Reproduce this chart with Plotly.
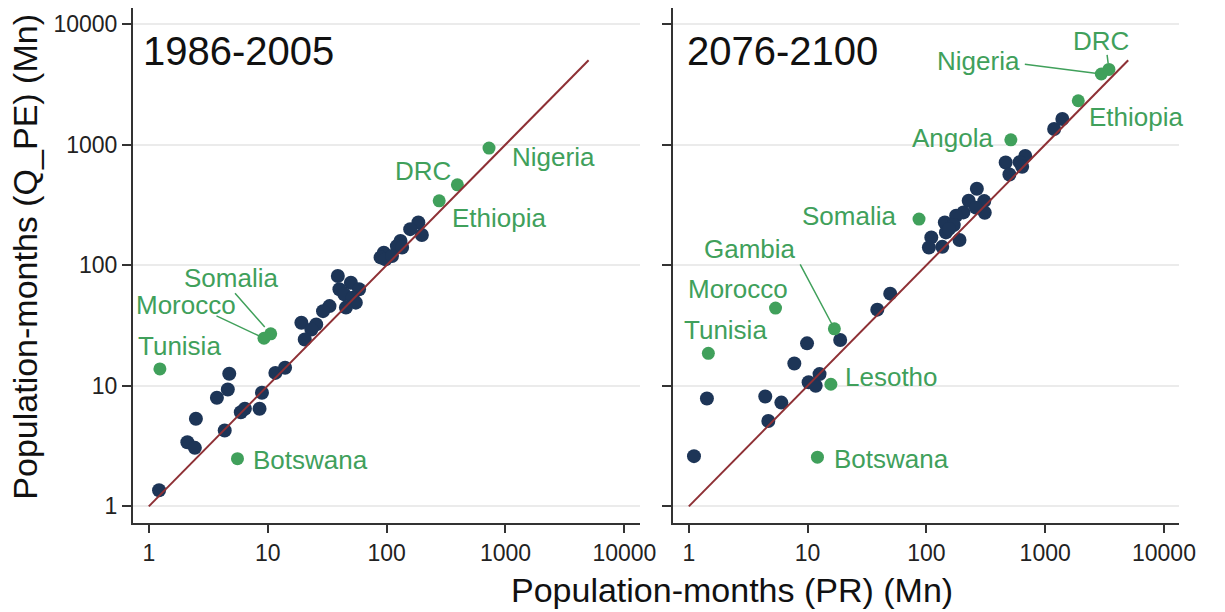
import numpy as np
import plotly.graph_objects as go

# ---------------- data (population-months, millions) ----------------
# 1986-2005: countries without a label
base_pr = [1.22, 2.11, 2.44, 2.49, 3.74, 4.62, 4.75, 4.35, 5.94, 6.43, 8.54, 8.95, 11.6, 14.0,
           185, 158, 198, 131, 122, 135, 94.8, 89, 97.9, 111,
           38.9, 50.1, 40.1, 58.7, 44.1, 51.8, 55.1, 45.5, 33.1, 29.2, 19.2, 25.6, 23.3, 20.5]
base_qpe = [1.36, 3.40, 3.06, 5.33, 7.96, 9.33, 12.6, 4.26, 6.04, 6.45, 6.45, 8.77, 12.8, 14.1,
            226, 199, 178, 159, 144, 140, 127, 116, 112, 119,
            81.3, 71.6, 63.1, 63.1, 57.3, 53.8, 48.9, 44.5, 45.8, 41.6, 33.3, 32.3, 29.3, 24.2]

# 1986-2005: highlighted countries
base_names = ["Nigeria", "DRC", "Ethiopia", "Somalia", "Morocco", "Tunisia", "Botswana"]
base_hl_pr = [727, 394, 277, 10.6, 9.31, 1.24, 5.57]
base_hl_qpe = [935, 464, 342, 27.0, 24.8, 13.8, 2.49]

# 2076-2100: countries without a label
fut_pr = [1.105, 1.42, 4.40, 4.67, 6.01, 7.73, 9.89, 10.2, 11.7, 12.6, 18.8, 38.6, 49.6,
          266, 227, 307, 310, 261, 205, 178, 143, 170, 110, 105, 136, 190, 146, 155,
          465, 680, 610, 500, 640, 1190, 1395]
fut_qpe = [2.61, 7.84, 8.15, 5.11, 7.26, 15.3, 22.5, 10.7, 10.0, 12.5, 24.0, 42.8, 58.1,
           430, 342, 340, 272, 300, 274, 257, 226, 215, 170, 140, 142, 162, 187, 200,
           711, 805, 715, 565, 655, 1347, 1630]

# 2076-2100: highlighted countries
fut_names = ["DRC", "Nigeria", "Ethiopia", "Angola", "Somalia", "Gambia",
             "Morocco", "Tunisia", "Lesotho", "Botswana"]
fut_hl_pr = [3440, 2970, 1900, 514, 86.7, 16.8, 5.37, 1.46, 15.7, 12.1]
fut_hl_qpe = [4200, 3850, 2310, 1096, 241, 29.7, 44.1, 18.6, 10.3, 2.56]

# 1:1 reference line
ref_line = [1, 5000]

periods = ["1986-2005", "2076-2100"]
tick_vals = [1, 10, 100, 1000, 10000]
tick_text = ["1", "10", "100", "1000", "10000"]

# ---------------- styling ----------------
FONT = "Liberation Sans, Arial, Helvetica, sans-serif"
NAVY = "#1d3557"
GREEN = "#40a05b"
MAROON = "#8e3035"
AXIS = "#333333"
W, H = 1225, 612

# label placement around each highlighted point (pixels; dy positive = down)
base_label_pos = {
    "Nigeria": dict(anchor="left", dx=21, dy=9),
    "DRC": dict(anchor="right", dx=-4, dy=-14),
    "Ethiopia": dict(anchor="left", dx=11, dy=17),
    "Somalia": dict(anchor="center", dx=-40, dy=-56, tail=(-37, -42), standoff=9),
    "Morocco": dict(anchor="center", dx=-78, dy=-33, tail=(-49, -23), standoff=4),
    "Tunisia": dict(anchor="center", dx=20, dy=-23),
    "Botswana": dict(anchor="left", dx=14, dy=1),
}
fut_label_pos = {
    "DRC": dict(anchor="center", dx=-8, dy=-28, tail=(-2, -16), standoff=6),
    "Nigeria": dict(anchor="center", dx=-123, dy=-13, tail=(-78, -10), standoff=4),
    "Ethiopia": dict(anchor="left", dx=9, dy=16),
    "Angola": dict(anchor="right", dx=-16, dy=-2),
    "Somalia": dict(anchor="right", dx=-21, dy=-3),
    "Gambia": dict(anchor="center", dx=-84, dy=-80, tail=(-35, -66), standoff=4),
    "Morocco": dict(anchor="center", dx=-38, dy=-19),
    "Tunisia": dict(anchor="center", dx=17, dy=-23),
    "Lesotho": dict(anchor="left", dx=12, dy=-7),
    "Botswana": dict(anchor="left", dx=15, dy=2),
}

fig = go.Figure()

panels = [
    ("x", "y", base_pr, base_qpe, base_names, base_hl_pr, base_hl_qpe, base_label_pos),
    ("x2", "y2", fut_pr, fut_qpe, fut_names, fut_hl_pr, fut_hl_qpe, fut_label_pos),
]

for xr, yr, pr, qpe, names, hpr, hqpe, lpos in panels:
    fig.add_trace(go.Scatter(x=pr, y=qpe, xaxis=xr, yaxis=yr, mode="markers",
                             marker=dict(size=14, color=NAVY, line=dict(width=0)),
                             showlegend=False, hoverinfo="skip", cliponaxis=False))
    fig.add_trace(go.Scatter(x=hpr, y=hqpe, xaxis=xr, yaxis=yr, mode="markers",
                             marker=dict(size=13, color=GREEN, line=dict(width=0)),
                             showlegend=False, text=names, cliponaxis=False))
    fig.add_trace(go.Scatter(x=ref_line, y=ref_line, xaxis=xr, yaxis=yr, mode="lines",
                             line=dict(color=MAROON, width=2), showlegend=False,
                             hoverinfo="skip"))
    for name, xv, yv in zip(names, hpr, hqpe):
        spec = lpos[name]
        fig.add_annotation(x=np.log10(xv), y=np.log10(yv), xref=xr, yref=yr,
                           text=name, showarrow=False, xanchor=spec["anchor"],
                           yanchor="middle", xshift=spec["dx"], yshift=-spec["dy"],
                           font=dict(family=FONT, size=26, color=GREEN))
        if "tail" in spec:
            tx, ty = spec["tail"]
            fig.add_annotation(x=np.log10(xv), y=np.log10(yv), xref=xr, yref=yr,
                               text="", showarrow=True, ax=tx, ay=ty,
                               arrowhead=0, arrowwidth=1.5, arrowcolor=GREEN,
                               standoff=spec["standoff"])

# panel titles
for xp, txt in zip([143 / W, 694 / W], periods):
    fig.add_annotation(x=xp, y=1 - 51 / H, xref="paper", yref="paper", text=txt,
                       showarrow=False, xanchor="left", yanchor="middle",
                       font=dict(family=FONT, size=40, color="#111111"))

# axis titles
fig.add_annotation(x=25 / W, y=1 - 257 / H, xref="paper", yref="paper",
                   text="Population-months (Q_PE) (Mn)", textangle=-90,
                   showarrow=False, xanchor="center", yanchor="middle",
                   font=dict(family=FONT, size=34, color="#111111"))
fig.add_annotation(x=742 / W, y=1 - 590 / H, xref="paper", yref="paper",
                   text="Population-months (PR) (Mn)",
                   showarrow=False, xanchor="center", yanchor="middle",
                   font=dict(family=FONT, size=34, color="#111111"))

log_range = [-0.135, 4.13]
common_x = dict(type="log", range=log_range, tickvals=tick_vals, ticktext=tick_text,
                ticks="outside", ticklen=9, tickwidth=1.5, tickcolor=AXIS,
                showline=True, linecolor=AXIS, linewidth=1.5, showgrid=False,
                zeroline=False, tickfont=dict(family=FONT, size=23, color="#222222"))
common_y = dict(type="log", range=log_range, tickvals=tick_vals, ticktext=tick_text,
                ticks="outside", ticklen=9, tickwidth=1.5, tickcolor=AXIS,
                showline=True, linecolor=AXIS, linewidth=1.5, showgrid=True,
                gridcolor="#ebebeb", gridwidth=1.5, zeroline=False,
                tickfont=dict(family=FONT, size=23, color="#222222"))

y_dom = [1 - 522.7 / H, 1 - 8.3 / H]
fig.update_layout(
    width=W, height=H, margin=dict(l=0, r=0, t=0, b=0),
    paper_bgcolor="white", plot_bgcolor="white",
    font=dict(family=FONT),
    xaxis=dict(domain=[134.5 / W, 648.3 / W], anchor="y", **common_x),
    xaxis2=dict(domain=[681.7 / W, 1195 / W], anchor="y2", **common_x),
    yaxis=dict(domain=y_dom, anchor="x", **common_y),
    yaxis2=dict(domain=y_dom, anchor="x2", **common_y),
)
fig.update_yaxes(showticklabels=False, selector=dict(anchor="x2"))

fig.write_html("out.html")
